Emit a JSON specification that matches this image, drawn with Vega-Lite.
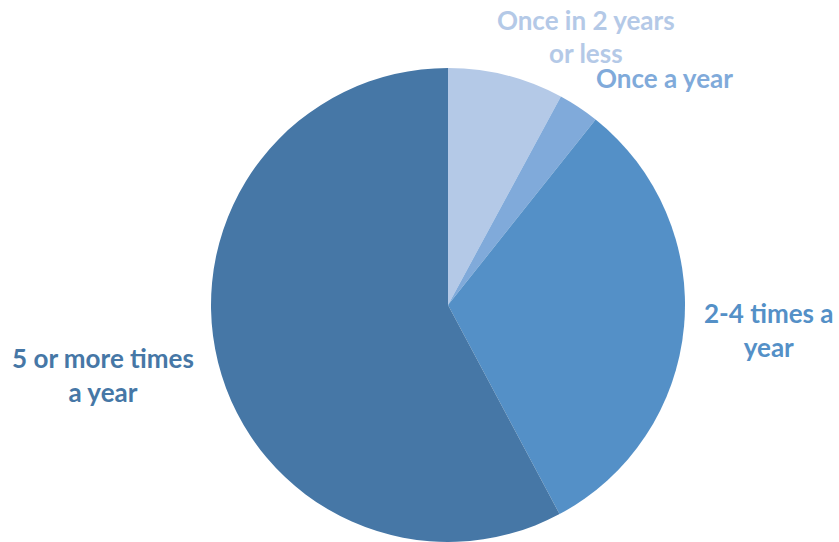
{
  "$schema": "https://vega.github.io/schema/vega-lite/v6.json",
  "width": 474,
  "height": 474,
  "autosize": {"type": "none"},
  "padding": {"left": 211, "top": 68, "right": 154, "bottom": 0},
  "background": "white",
  "config": {"view": {"stroke": null}},
  "data": {
    "values": [
      {"category": "Once in 2 years or less", "label": "Once in 2 years\nor less", "share": 7.9, "rank": 1},
      {"category": "Once a year", "label": "Once a year", "share": 2.8, "rank": 2},
      {"category": "2-4 times a year", "label": "2-4 times a\nyear", "share": 31.5, "rank": 3},
      {"category": "5 or more times a year", "label": "5 or more times\na year", "share": 57.8, "rank": 4}
    ]
  },
  "encoding": {
    "theta": {"field": "share", "type": "quantitative", "stack": true},
    "order": {"field": "rank", "type": "quantitative"},
    "color": {
      "field": "category",
      "type": "nominal",
      "legend": null,
      "scale": {
        "domain": ["Once in 2 years or less", "Once a year", "2-4 times a year", "5 or more times a year"],
        "range": ["#B4C9E7", "#80AADA", "#5490C7", "#4677A6"]
      }
    }
  },
  "layer": [
    {"mark": {"type": "arc"}},
    {
      "mark": {"type": "text", "radius": 280, "dx": 69, "dy": -12, "font": "Lato", "fontWeight": "bold", "fontSize": 26, "lineBreak": "\n", "lineHeight": 33, "align": "center", "baseline": "middle"},
      "encoding": {"text": {"condition": {"test": "datum.rank == 1", "field": "label"}, "value": ""}}
    },
    {
      "mark": {"type": "text", "radius": 280, "dx": 62, "dy": 9, "font": "Lato", "fontWeight": "bold", "fontSize": 26, "lineBreak": "\n", "lineHeight": 34, "align": "center", "baseline": "middle"},
      "encoding": {"text": {"condition": {"test": "datum.rank == 2", "field": "label"}, "value": ""}}
    },
    {
      "mark": {"type": "text", "radius": 300, "dx": 22, "dy": -17, "font": "Lato", "fontWeight": "bold", "fontSize": 26, "lineBreak": "\n", "lineHeight": 34, "align": "center", "baseline": "middle"},
      "encoding": {"text": {"condition": {"test": "datum.rank == 3", "field": "label"}, "value": ""}}
    },
    {
      "mark": {"type": "text", "radius": 300, "dx": -54, "dy": -18, "font": "Lato", "fontWeight": "bold", "fontSize": 26, "lineBreak": "\n", "lineHeight": 34, "align": "center", "baseline": "middle"},
      "encoding": {"text": {"condition": {"test": "datum.rank == 4", "field": "label"}, "value": ""}}
    }
  ]
}
